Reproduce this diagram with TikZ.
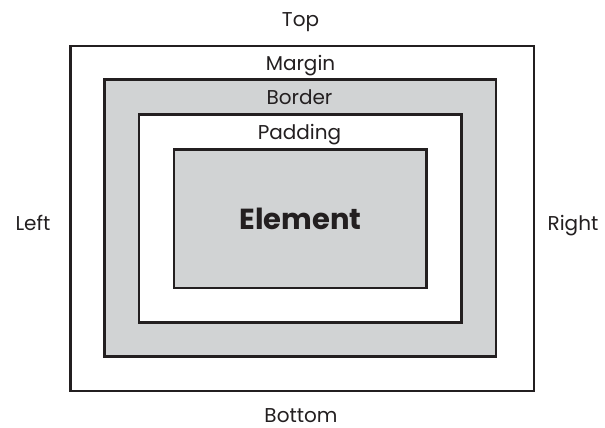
\documentclass[tikz,border=0pt]{standalone}
\usepackage{fontspec}
\setmainfont{Poppins}
\definecolor{boxline}{HTML}{231F20}
\definecolor{boxfill}{HTML}{D1D3D4}
\begin{document}
\begin{tikzpicture}[x=1pt,y=-1pt,
  layer/.style={draw=boxline,line width=2.3pt},
  lbl/.style={text=boxline,font=\fontsize{20}{20}\selectfont,inner sep=0pt,anchor=base}]
\useasboundingbox (0,0) rectangle (605,428);
% nested boxes, outside in
\draw[layer,fill=white]   (70.5,46) rectangle (534,391);
\draw[layer,fill=boxfill] (104.5,79.5) rectangle (496,356.5);
\draw[layer,fill=white]   (139,114.5) rectangle (461.5,322.5);
\draw[layer,fill=boxfill] (174,149.5) rectangle (426.5,288);
% labels
\node[lbl] (top)     at (300.5,26.7)  {Top};
\node[lbl] (margin)  at (300.5,70.7)  {Margin};
\node[lbl] (border)  at (299.5,104.3) {Border};
\node[lbl] (padding) at (299.5,139.3) {Padding};
\node[lbl] (left)    at (33,230)      {Left};
\node[lbl] (right)   at (573,230)     {Right};
\node[lbl] (bottom)  at (301,422.5)   {Bottom};
\node[lbl,font=\fontsize{29}{29}\selectfont\bfseries] (element) at (300.5,229.3) {Element};
\end{tikzpicture}
\end{document}
